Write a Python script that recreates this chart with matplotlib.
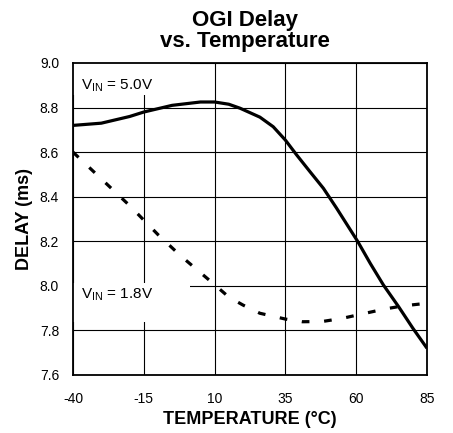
import numpy as np
import matplotlib
matplotlib.use('Agg')
import matplotlib.pyplot as plt
from matplotlib.patches import Rectangle

plt.rcParams['font.family'] = ['Liberation Sans', 'DejaVu Sans']
plt.rcParams['mathtext.fontset'] = 'custom'
plt.rcParams['mathtext.rm'] = 'Liberation Sans'
plt.rcParams['axes.unicode_minus'] = False

# delay vs temperature
temp_5v = [-40, -30, -20, -15, -5, 5, 10, 15, 19, 26, 30.7, 35, 39, 43.7, 48.4,
           53, 60.5, 65, 69.6, 75, 80, 85]
delay_5v = [8.72, 8.73, 8.76, 8.78, 8.81, 8.825, 8.825, 8.815, 8.797, 8.757, 8.714,
            8.654, 8.587, 8.512, 8.438, 8.35, 8.2, 8.10, 8.004, 7.906, 7.81, 7.72]

temp_18v = [-40, -30, -20, -10, -2, 9, 15, 20, 26, 35, 41, 48, 55, 62.5, 70, 76.5, 85]
delay_18v = [8.60, 8.48, 8.36, 8.23, 8.135, 8.016, 7.95, 7.914, 7.877, 7.851, 7.839,
             7.84, 7.854, 7.875, 7.896, 7.91, 7.922]

xticks = [-40, -15, 10, 35, 60, 85]
yticks = [7.6, 7.8, 8.0, 8.2, 8.4, 8.6, 8.8, 9.0]

fig = plt.figure(figsize=(4.53, 4.33), dpi=100)
ax = fig.add_axes([73/453, 1-375/433, 354/453, 312/433])

ax.plot(temp_5v, delay_5v, color='black', lw=2.3, solid_capstyle='butt', zorder=3)
ax.plot(temp_18v, delay_18v, color='black', lw=2.3, linestyle=(0, (2.4, 4.6)), zorder=3)

ax.set_xlim(-40, 85)
ax.set_ylim(7.6, 9.0)
ax.set_xticks(xticks)
ax.set_yticks(yticks)
ax.set_yticklabels(['%.1f' % v for v in yticks])
ax.tick_params(axis='x', length=0, labelsize=10, pad=12)
ax.tick_params(axis='y', length=0, labelsize=10, pad=10)
ax.grid(True, color='black', lw=0.8, zorder=1)
for s in ax.spines.values():
    s.set_linewidth(1.3)

# white label boxes hide the grid behind the V_IN notes
ax.add_patch(Rectangle((-40, 8.856), 41.3, 0.144, facecolor='white', edgecolor='none', zorder=2))
ax.add_patch(Rectangle((-40, 7.838), 41.3, 0.175, facecolor='white', edgecolor='none', zorder=2))
ax.text(-37.2, 8.9, r'V$_{\mathregular{IN}}$ = 5.0V', fontsize=11, va='center', zorder=2.5)
ax.text(-37.2, 7.96, r'V$_{\mathregular{IN}}$ = 1.8V', fontsize=11, va='center', zorder=2.5)

ax.set_xlabel('TEMPERATURE (°C)', fontsize=13, fontweight='bold', labelpad=4)
ax.set_ylabel('DELAY (ms)', fontsize=13, fontweight='bold', labelpad=5)
fig.text(245/453, 1-31/433, 'OGI Delay\nvs. Temperature', ha='center', va='center',
         fontsize=16, fontweight='bold', linespacing=1.05)

fig.savefig('out.png', dpi=100)
